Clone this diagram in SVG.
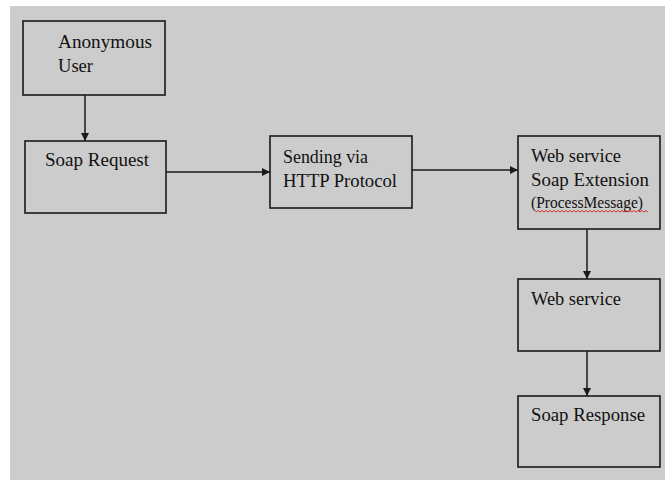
<svg xmlns="http://www.w3.org/2000/svg" width="665" height="480" viewBox="0 0 665 480">
  <style>
    .box { fill: #cccccc; stroke: #1a1a1a; stroke-width: 1.6; }
    .lbl { font-family: "Liberation Serif", "Times New Roman", serif; font-size: 19px; fill: #111111; }
    .lbl.small { font-size: 16.5px; }
    .edge { fill: none; stroke: #1a1a1a; stroke-width: 1.5; }
  </style>
  <defs>
    <marker id="arrow" viewBox="0 0 10 10" refX="10" refY="5" markerWidth="8" markerHeight="8" markerUnits="userSpaceOnUse" orient="auto">
      <path d="M0,0 L10,5 L0,10 z" fill="#1a1a1a"/>
    </marker>
  </defs>

  <!-- page background -->
  <rect x="0" y="0" width="665" height="480" fill="#ffffff"/>
  <rect x="10" y="6" width="655" height="474" fill="#cccccc"/>

  <g id="connectors">
    <line class="edge" x1="85" y1="95" x2="85" y2="141" marker-end="url(#arrow)"/>
    <line class="edge" x1="166" y1="172" x2="270" y2="172" marker-end="url(#arrow)"/>
    <line class="edge" x1="412" y1="170" x2="518" y2="170" marker-end="url(#arrow)"/>
    <line class="edge" x1="587" y1="229" x2="587" y2="279" marker-end="url(#arrow)"/>
    <line class="edge" x1="587" y1="351" x2="587" y2="396" marker-end="url(#arrow)"/>
  </g>

  <g id="anonymous-user">
    <rect class="box" x="23" y="21" width="142" height="74"/>
    <text class="lbl" x="58" y="48" textLength="94" lengthAdjust="spacingAndGlyphs">Anonymous</text>
    <text class="lbl" x="58" y="72" textLength="35" lengthAdjust="spacingAndGlyphs">User</text>
  </g>

  <g id="soap-request">
    <rect class="box" x="25" y="141" width="141" height="72"/>
    <text class="lbl" x="45" y="166" textLength="104" lengthAdjust="spacingAndGlyphs">Soap Request</text>
  </g>

  <g id="http-protocol">
    <rect class="box" x="270" y="136" width="142" height="72"/>
    <text class="lbl" x="283" y="163" textLength="85" lengthAdjust="spacingAndGlyphs">Sending via</text>
    <text class="lbl" x="283" y="187" textLength="114" lengthAdjust="spacingAndGlyphs">HTTP Protocol</text>
  </g>

  <g id="soap-extension">
    <rect class="box" x="518" y="136" width="142" height="93"/>
    <text class="lbl" x="531" y="162" textLength="90" lengthAdjust="spacingAndGlyphs">Web service</text>
    <text class="lbl" x="531" y="185.5" textLength="118" lengthAdjust="spacingAndGlyphs">Soap Extension</text>
    <text class="lbl small" x="531" y="208" textLength="112" lengthAdjust="spacingAndGlyphs">(ProcessMessage)</text>
    <!-- spell-check squiggle under ProcessMessage -->
    <path d="M536,212 l2,-1.5 l2,1.5 l2,-1.5 l2,1.5 l2,-1.5 l2,1.5 l2,-1.5 l2,1.5 l2,-1.5 l2,1.5 l2,-1.5 l2,1.5 l2,-1.5 l2,1.5 l2,-1.5 l2,1.5 l2,-1.5 l2,1.5 l2,-1.5 l2,1.5 l2,-1.5 l2,1.5 l2,-1.5 l2,1.5 l2,-1.5 l2,1.5 l2,-1.5 l2,1.5 l2,-1.5 l2,1.5 l2,-1.5 l2,1.5 l2,-1.5 l2,1.5 l2,-1.5 l2,1.5 l2,-1.5 l2,1.5 l2,-1.5 l2,1.5 l2,-1.5 l2,1.5 l2,-1.5 l2,1.5 l2,-1.5 l2,1.5 l2,-1.5 l2,1.5 l2,-1.5 l2,1.5 l2,-1.5 l2,1.5 l2,-1.5 l2,1.5 l2,-1.5 l2,1.5" fill="none" stroke="#e02020" stroke-width="0.9"/>
  </g>

  <g id="web-service">
    <rect class="box" x="518" y="279" width="142" height="72"/>
    <text class="lbl" x="531" y="305" textLength="90" lengthAdjust="spacingAndGlyphs">Web service</text>
  </g>

  <g id="soap-response">
    <rect class="box" x="518" y="396" width="142" height="71"/>
    <text class="lbl" x="531" y="421" textLength="114" lengthAdjust="spacingAndGlyphs">Soap Response</text>
  </g>
</svg>
